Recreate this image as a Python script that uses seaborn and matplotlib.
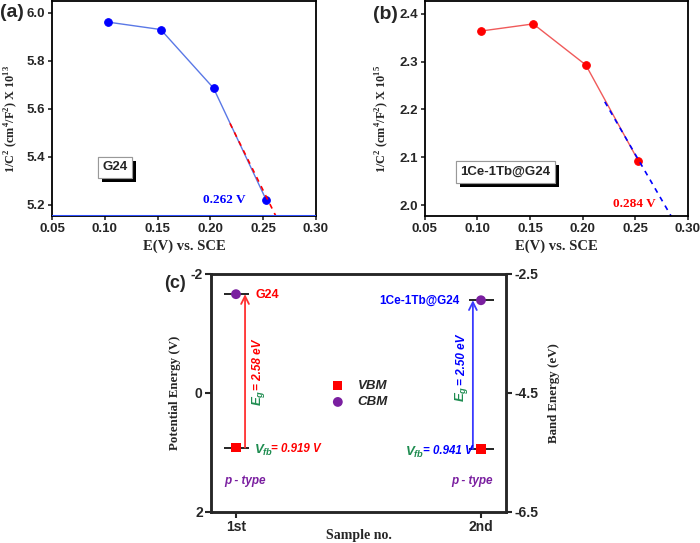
import matplotlib
matplotlib.use("Agg")
import matplotlib.pyplot as plt
import matplotlib.patheffects as pe
from matplotlib.ticker import FormatStrFormatter
import seaborn as sns

sns.set_style("ticks")
plt.rcParams["font.family"] = ["Liberation Sans", "DejaVu Sans"]
plt.rcParams["axes.unicode_minus"] = False
plt.rcParams["mathtext.fontset"] = "custom"
plt.rcParams["mathtext.it"] = "Liberation Sans:bold:italic"
plt.rcParams["mathtext.rm"] = "Liberation Serif:bold"
plt.rcParams["mathtext.bf"] = "Liberation Serif:bold"

# Mott-Schottky data
volt = [0.103, 0.153, 0.203, 0.253]
g24 = [5.962, 5.931, 5.687, 5.220]          # x 10^13
cetb = [2.364, 2.379, 2.293, 2.092]         # x 10^15
fit_a_x = [0.2186, 0.262]
fit_a_y = [5.54, 5.154]
fit_b_x = [0.221, 0.284]
fit_b_y = [2.216, 1.977]

# band positions
samples = [1, 2]
sample_names = ["1st", "2nd"]
vbm = [0.919, 0.941]
gap = [2.58, 2.50]
cbm = [v - g for v, g in zip(vbm, gap)]

serif = "Liberation Serif"
red = "#ff0000"
blue = "#0000ff"
green = "#1e8c50"
purple = "#7a1fa0"

fig = plt.figure(figsize=(7, 5.43), dpi=100)
ax1 = fig.add_axes([0.0743, 0.6022, 0.377, 0.396])
ax2 = fig.add_axes([0.607, 0.6022, 0.3757, 0.396])
ax3 = fig.add_axes([0.3014, 0.0571, 0.4214, 0.4383])


def style_top(ax):
    for s in ax.spines.values():
        s.set_linewidth(1.3)
        s.set_color("black")
    ax.tick_params(direction="out", length=3, width=1.2, pad=2, labelsize=9.5)
    for lab in ax.get_xticklabels() + ax.get_yticklabels():
        lab.set_fontweight("bold")
    ax.set_xlabel("E(V) vs. SCE", family=serif, fontweight="bold", fontsize=10.5, labelpad=3)


def shadow_box(ax, x, y, s):
    t = ax.text(x, y, s, transform=ax.transAxes, ha="center", va="center",
                fontsize=9.5, fontweight="bold",
                bbox=dict(boxstyle="square,pad=0.35", fc="white", ec="#999999", lw=0.8))
    t.get_bbox_patch().set_path_effects([pe.withSimplePatchShadow(offset=(3, -3), shadow_rgbFace="k", alpha=1), pe.Normal()])


# (a)
sns.lineplot(x=volt, y=g24, ax=ax1, color="#5a78e6", lw=1, marker="o", markersize=5.5,
             markerfacecolor="blue", markeredgecolor="blue")
sns.lineplot(x=fit_a_x, y=fit_a_y, ax=ax1, color=red, lw=1.2, linestyle=(0, (3, 3)))
ax1.set_xlim(0.05, 0.30)
ax1.set_ylim(5.154, 6.05)
ax1.axhline(5.154, color="#3050ff", lw=2.2, zorder=5)
ax1.set_xticks([0.05, 0.10, 0.15, 0.20, 0.25, 0.30])
ax1.set_yticks([5.2, 5.4, 5.6, 5.8, 6.0])
ax1.xaxis.set_major_formatter(FormatStrFormatter("%.2f"))
ax1.yaxis.set_major_formatter(FormatStrFormatter("%.1f"))
style_top(ax1)
ax1.set_ylabel(r"1/C$^2$ (cm$^4$/F$^2$) X 10$^{13}$", family=serif, fontweight="bold", fontsize=8.8)
ax1.yaxis.set_label_coords(-0.12, 0.45)
ax1.text(0.233, 5.22, "0.262 V", color=blue, family=serif, fontweight="bold", fontsize=9.5,
         ha="right", va="center")
shadow_box(ax1, 0.238, 0.226, "G24")

# (b)
sns.lineplot(x=volt, y=cetb, ax=ax2, color="#f05a5a", lw=1, marker="o", markersize=5.5,
             markerfacecolor=red, markeredgecolor=red)
sns.lineplot(x=fit_b_x, y=fit_b_y, ax=ax2, color=blue, lw=1.2, linestyle=(0, (3, 3)))
ax2.set_xlim(0.05, 0.30)
ax2.set_ylim(1.977, 2.427)
ax2.set_xticks([0.05, 0.10, 0.15, 0.20, 0.25, 0.30])
ax2.set_yticks([2.0, 2.1, 2.2, 2.3, 2.4])
ax2.xaxis.set_major_formatter(FormatStrFormatter("%.2f"))
ax2.yaxis.set_major_formatter(FormatStrFormatter("%.1f"))
style_top(ax2)
ax2.set_ylabel(r"1/C$^2$ (cm$^4$/F$^2$) X 10$^{15}$", family=serif, fontweight="bold", fontsize=8.8)
ax2.yaxis.set_label_coords(-0.13, 0.45)
ax2.text(0.2696, 2.002, "0.284 V", color=red, family=serif, fontweight="bold", fontsize=9.5,
         ha="right", va="center")
shadow_box(ax2, 0.306, 0.205, "1Ce-1Tb@G24")

# (c)
for i, x in enumerate(samples):
    ax3.hlines([vbm[i], cbm[i]], x - 0.05, x + 0.053, color="black", lw=1.2, zorder=2)
sns.scatterplot(x=samples, y=vbm, ax=ax3, marker="s", color=red, s=45, edgecolor="none",
                label="VBM", zorder=3)
sns.scatterplot(x=samples, y=cbm, ax=ax3, marker="o", color=purple, s=50, edgecolor="none",
                label="CBM", zorder=3)
arrow_cols = ["#ff3030", "#3a3aff"]
arrow_x = [1.037, 1.967]
for i in range(2):
    ax3.annotate("", xy=(arrow_x[i], cbm[i]), xytext=(arrow_x[i], vbm[i]),
                 arrowprops=dict(arrowstyle="->", color=arrow_cols[i], lw=1.3,
                                 shrinkA=0, shrinkB=0, mutation_scale=14))
ax3.set_xlim(0.898, 2.102)
ax3.set_ylim(2, -2)
ax3.set_xticks(samples)
ax3.set_xticklabels(sample_names)
ax3.set_yticks([-2, 0, 2])
ax3.set_xlabel("Sample no.", family=serif, fontweight="bold", fontsize=10)
ax3.xaxis.set_label_coords(0.5, -0.072)
ax3.set_ylabel("Potential Energy (V)", family=serif, fontweight="bold", fontsize=9.3)
ax3.yaxis.set_label_coords(-0.1, 0.5)
ax3.tick_params(direction="out", length=4, width=1.5, pad=2, labelsize=10)
for s in ax3.spines.values():
    s.set_linewidth(1.8)
for lab in ax3.get_xticklabels() + ax3.get_yticklabels():
    lab.set_fontweight("bold")

ax3r = ax3.twinx()
ax3r.set_ylim(-6.5, -2.5)
ax3r.set_yticks([-2.5, -4.5, -6.5])
ax3r.yaxis.set_major_formatter(FormatStrFormatter("%.1f"))
ax3r.tick_params(direction="out", length=4, width=1.5, pad=2, labelsize=10)
for s in ax3r.spines.values():
    s.set_linewidth(1.8)
for lab in ax3r.get_yticklabels():
    lab.set_fontweight("bold")
ax3r.set_ylabel("Band Energy (eV)", family=serif, fontweight="bold", fontsize=9.3, labelpad=7)

leg = ax3.legend(loc="center left", bbox_to_anchor=(0.345, 0.495), frameon=False,
                 handletextpad=0.5, labelspacing=0.3, fontsize=9.5, markerscale=1.0)
for t in leg.get_texts():
    t.set_fontweight("bold")
    t.set_fontstyle("italic")

ax3.text(1.078, -1.65, "G24", color=red, fontweight="bold", fontsize=9, va="center", ha="left")
ax3.text(1.914, -1.546, "1Ce-1Tb@G24", color=blue, fontweight="bold", fontsize=8.5, va="center", ha="right")

# band gap labels (rotated)
eg_x = [1.09, 1.922]
eg_y = [-0.05, -0.13]
eg_col = [red, blue]
for i in range(2):
    ax3.text(eg_x[i], eg_y[i], r"$E_g$", color=green, rotation=90, fontsize=9.5,
             ha="center", va="top")
    ax3.text(eg_x[i], eg_y[i], "= %.2f eV" % gap[i], color=eg_col[i], rotation=90,
             fontsize=8.5, fontweight="bold", fontstyle="italic", ha="center", va="bottom")

vfb_x = [1.073, 1.69]
val_x = [1.145, 1.763]
for i in range(2):
    ax3.text(vfb_x[i], vbm[i] + 0.05, r"$V_{fb}$", color=green, fontsize=9.5, ha="left", va="center")
    ax3.text(val_x[i], vbm[i] + 0.03, "= %.3f V" % vbm[i], color=eg_col[i], fontsize=8.3,
             fontweight="bold", fontstyle="italic", ha="left", va="center")
    ax3.text([1.037, 1.963][i], 1.48, "p - type", color=purple, fontsize=8.5, fontweight="bold",
             fontstyle="italic", ha="center", va="center")

fig.text(0.0, 0.977, "(a)", fontsize=14, fontweight="bold", ha="left", va="center")
fig.text(0.533, 0.973, "(b)", fontsize=14, fontweight="bold", ha="left", va="center")
fig.text(0.235, 0.478, "(c)", fontsize=13, fontweight="bold", ha="left", va="center")

fig.savefig("out.png", dpi=100)
